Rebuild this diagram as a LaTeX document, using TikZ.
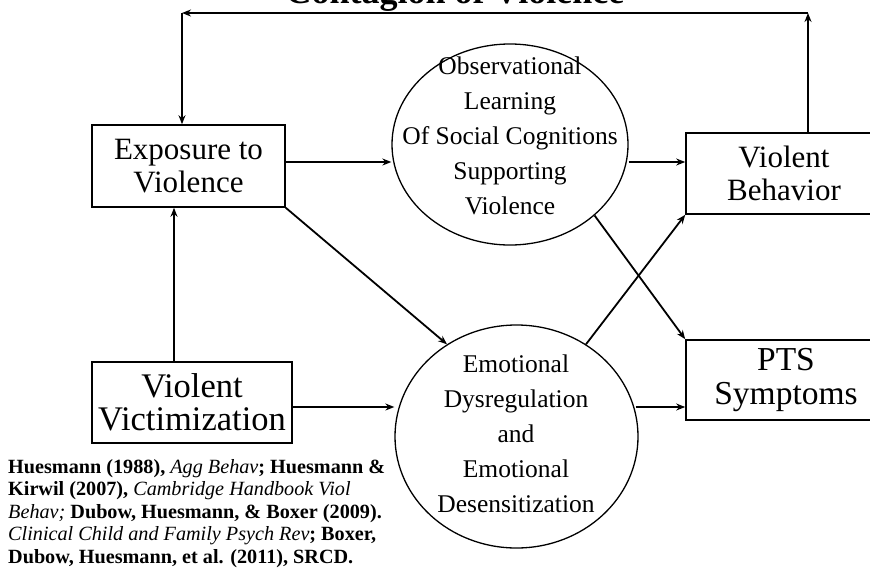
\documentclass[tikz,border=0pt]{standalone}
\usepackage{fontspec}
\setmainfont{Liberation Serif}
\usetikzlibrary{arrows.meta,shapes.geometric}
\newcommand\citit[1]{{\mdseries\itshape #1}}
\begin{document}
\begin{tikzpicture}[x=1pt,y=-1pt,
  box/.style={draw, line width=1.6pt, inner sep=0pt, align=center, font=\fontsize{31}{33}\selectfont},
  ell/.style={draw, ellipse, line width=1.3pt, inner sep=0pt},
  ctext/.style={align=center, inner sep=0pt, font=\fontsize{25.5}{35}\selectfont},
  arr/.style={line width=1.8pt, -{Stealth[length=9pt,width=7pt]}},
  cite/.style={anchor=base west, inner sep=0pt, font=\bfseries\fontsize{20.2}{22.5}\selectfont}]
\clip (0,0) rectangle (870,568);
\useasboundingbox (0,0) rectangle (870,568);
\fill[white] (0,0) rectangle (870,568);

\node[anchor=base, inner sep=0pt, font=\bfseries\fontsize{36}{40}\selectfont] (title) at (455,3) {Contagion of Violence};

\node[box, minimum width=193, minimum height=82] (expo) at (188.5,166) {Exposure to\\Violence};
\node[box, minimum width=200, minimum height=81, font=\fontsize{34.5}{33}\selectfont] (vict) at (192,402.5) {Violent\\Victimization};
\node[box, minimum width=196, minimum height=81] (vb) at (784,173.5) {Violent\\Behavior};
\node[box, minimum width=200, minimum height=80, font=\fontsize{33.5}{34}\selectfont] (pts) at (786,380) {PTS\\Symptoms};
\node[ell, minimum width=236, minimum height=201] (obs) at (510,144.5) {};
\node[ctext] (obst) at (510,136) {Observational\\Learning\\Of Social Cognitions\\Supporting\\Violence};
\node[ell, minimum width=243, minimum height=223] (emo) at (516.5,436.5) {};
\node[ctext] (emot) at (516,434) {Emotional\\Dysregulation\\and\\Emotional\\Desensitization};

\coordinate (r1) at (0,162);
\coordinate (r2) at (0,407);
\coordinate (r3) at (174,0);
\coordinate (c1) at (808,13);
\coordinate (c2) at (182,13);
\coordinate (e2) at ([xshift=-3pt]emo.east);

\draw[arr] (expo.east |- r1) -- (obs.west |- r1);
\draw[arr] (obs.east |- r1) -- (vb.west |- r1);
\draw[arr] (vict.east |- r2) -- (emo.west |- r2);
\draw[arr] (e2 |- r2) -- (pts.west |- r2);
\draw[arr] (vict.north -| r3) -- (expo.south -| r3);
\draw[arr] (expo.south east) -- (emo.127);
\draw[arr] (emo.53) -- (vb.south west);
\draw[arr] (obs.-40) -- (pts.north west);
\draw[arr] (vb.north -| c1) -- (c1);
\draw[arr] (c1) -- (c2);
\draw[arr] (c2) -- (expo.north -| c2);

\node[cite] (cite1) at (8,473) {Huesmann (1988), \citit{Agg Behav}; Huesmann \&};
\node[cite] (cite2) at (8,495.5) {Kirwil (2007), \citit{Cambridge Handbook Viol}};
\node[cite] (cite3) at (8,518) {\citit{Behav;} Dubow, Huesmann, \& Boxer (2009).};
\node[cite] (cite4) at (8,540.5) {\citit{Clinical Child and Family Psych Rev}; Boxer,};
\node[cite] (cite5) at (8,563) {Dubow, Huesmann, et al. (2011), SRCD.};
\end{tikzpicture}
\end{document}
